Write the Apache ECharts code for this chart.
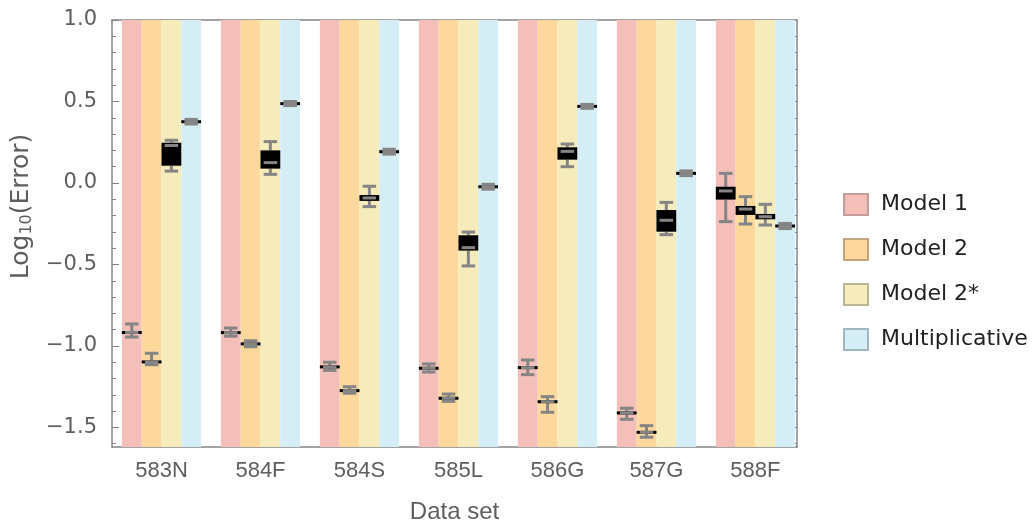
<!DOCTYPE html>
<html lang="en">
<head>
    <meta charset="utf-8" />
    <title>Log10 error by data set</title>
    <style>
        html,
        body {
            width: 100%;
            height: 100%;
            margin: 0;
            background: #fff;
        }

        #main {
            width: 1035px;
            height: 527px;
        }
    </style>
</head>
<body>
    <div id="main"></div>
    <script src="https://cdn.jsdelivr.net/npm/echarts@6/dist/echarts.min.js"></script>
    <script type="text/javascript">
        var datasets = ['583N', '584F', '584S', '585L', '586G', '587G', '588F'];
        var models = ['Model 1', 'Model 2', 'Model 2*', 'Multiplicative'];

        // [low whisker, q1, median, q3, high whisker] for each data set
        var model1Box = [
            [-0.945, -0.925, -0.917, -0.910, -0.865],
            [-0.940, -0.922, -0.918, -0.914, -0.890],
            [-1.150, -1.135, -1.129, -1.122, -1.100],
            [-1.160, -1.142, -1.137, -1.132, -1.110],
            [-1.176, -1.138, -1.133, -1.128, -1.086],
            [-1.450, -1.415, -1.411, -1.407, -1.382],
            [-0.237, -0.102, -0.049, -0.023, 0.059]
        ];
        var model2Box = [
            [-1.115, -1.103, -1.098, -1.093, -1.045],
            [-1.005, -0.990, -0.988, -0.985, -0.968],
            [-1.290, -1.278, -1.274, -1.270, -1.250],
            [-1.340, -1.326, -1.321, -1.316, -1.295],
            [-1.407, -1.347, -1.342, -1.337, -1.311],
            [-1.560, -1.534, -1.530, -1.526, -1.489],
            [-0.252, -0.196, -0.160, -0.141, -0.084]
        ];
        var model2sBox = [
            [0.073, 0.106, 0.230, 0.247, 0.262],
            [0.053, 0.088, 0.125, 0.200, 0.254],
            [-0.145, -0.110, -0.092, -0.074, -0.020],
            [-0.509, -0.415, -0.397, -0.321, -0.301],
            [0.100, 0.143, 0.194, 0.219, 0.239],
            [-0.317, -0.299, -0.229, -0.166, -0.119],
            [-0.258, -0.223, -0.207, -0.190, -0.131]
        ];
        var multBox = [
            [0.362, 0.373, 0.376, 0.379, 0.390],
            [0.475, 0.484, 0.487, 0.490, 0.500],
            [0.177, 0.189, 0.192, 0.195, 0.207],
            [-0.038, -0.026, -0.023, -0.020, -0.008],
            [0.458, 0.467, 0.470, 0.473, 0.482],
            [0.045, 0.056, 0.059, 0.062, 0.074],
            [-0.280, -0.267, -0.264, -0.261, -0.248]
        ];
        var yTicks = [-1.5, -1.0, -0.5, 0.0, 0.5, 1.0];

        var boxes = [model1Box, model2Box, model2sBox, multBox];
        var bandColors = ['#f4beb9', '#fcd89c', '#f6ebbb', '#d5edf5'];
        var legendBorders = ['#c29d9a', '#c2a57d', '#bdb694', '#9fb6bf'];
        var font = 'Liberation Sans, Arial, Helvetica, sans-serif';
        var wideFont = 'DejaVu Sans, Verdana, sans-serif';
        var frameColor = '#858585';
        var labelColor = '#5e5e5e';
        var yMin = -1.62, yMax = 1.0;

        // each data set takes 5 slots: 4 model bands + 1 gap
        function slot(g, m) { return g * 5 + m + 0.5; }

        var bandCenters = [], groupCenters = [];
        datasets.forEach(function (d, g) {
            groupCenters.push(g * 5 + 2);
            models.forEach(function (mm, m) { bandCenters.push(slot(g, m)); });
        });
        var minorY = [];
        for (var k = -16; k <= 10; k++) {
            if (k % 5 !== 0) minorY.push(k / 10);
        }

        function renderBand(params, api) {
            var x = api.value(0);
            var w = api.size([1, 0])[0];
            var p = api.coord([x - 0.5, 0]);
            var cs = params.coordSys;
            return {
                type: 'rect',
                shape: { x: p[0], y: cs.y, width: w, height: cs.height },
                style: { fill: api.visual('color') }
            };
        }

        function renderBox(params, api) {
            var x = api.value(0);
            var pLo = api.coord([x, api.value(1)]);
            var pQ1 = api.coord([x, api.value(2)]);
            var pMd = api.coord([x, api.value(3)]);
            var pQ3 = api.coord([x, api.value(4)]);
            var pHi = api.coord([x, api.value(5)]);
            var bw = api.size([1, 0])[0];
            var cx = pMd[0];
            var cap = bw * 0.34;
            var top = pQ3[1], bot = pQ1[1];
            if (bot - top < 3) {
                var mid = (top + bot) / 2;
                top = mid - 1.5;
                bot = mid + 1.5;
            }
            var gray = { stroke: '#858585', lineWidth: 3 };
            return {
                type: 'group',
                children: [
                    { type: 'line', shape: { x1: cx, y1: pHi[1], x2: cx, y2: top }, style: gray },
                    { type: 'line', shape: { x1: cx, y1: bot, x2: cx, y2: pLo[1] }, style: gray },
                    { type: 'rect', shape: { x: cx - bw / 2, y: top, width: bw, height: bot - top }, style: { fill: '#000' } },
                    { type: 'line', shape: { x1: cx - cap, y1: pHi[1], x2: cx + cap, y2: pHi[1] }, style: gray },
                    { type: 'line', shape: { x1: cx - cap, y1: pLo[1], x2: cx + cap, y2: pLo[1] }, style: gray },
                    { type: 'line', shape: { x1: cx - cap, y1: pMd[1], x2: cx + cap, y2: pMd[1] }, style: gray }
                ]
            };
        }

        var series = [];
        models.forEach(function (name, m) {
            series.push({
                type: 'custom',
                name: name,
                z: 1,
                silent: true,
                itemStyle: { color: bandColors[m] },
                renderItem: renderBand,
                encode: { x: 0, y: 1 },
                data: datasets.map(function (d, g) { return [slot(g, m), 0]; })
            });
        });
        models.forEach(function (name, m) {
            series.push({
                type: 'custom',
                name: name + ' box',
                z: 3,
                silent: true,
                renderItem: renderBox,
                encode: { x: 0, y: [1, 2, 3, 4, 5] },
                data: datasets.map(function (d, g) { return [slot(g, m)].concat(boxes[m][g]); })
            });
        });

        function yLabel(v) {
            return v.toFixed(1).replace('-', '\u2212');
        }

        function frameX(pos, labels) {
            return {
                type: 'value',
                min: -0.5,
                max: 34.1,
                position: pos,
                axisLine: { onZero: false, lineStyle: { color: frameColor, width: 1.5 } },
                axisTick: { inside: true, length: 5, customValues: bandCenters, lineStyle: { color: frameColor } },
                axisLabel: labels ? {
                    customValues: groupCenters,
                    margin: 13,
                    fontSize: 22,
                    color: labelColor,
                    formatter: function (v) { return datasets[Math.round((v - 2) / 5)]; }
                } : { show: false },
                splitLine: { show: false }
            };
        }

        function frameY(pos, ticks, len, line) {
            return {
                type: 'value',
                min: yMin,
                max: yMax,
                position: pos,
                axisLine: { show: line, onZero: false, lineStyle: { color: frameColor, width: 1.5 } },
                axisTick: { show: true, inside: true, length: len, customValues: ticks, lineStyle: { color: frameColor } },
                axisLabel: { show: false },
                splitLine: { show: false }
            };
        }

        var xBottom = frameX('bottom', true);
        xBottom.name = 'Data set';
        xBottom.nameLocation = 'middle';
        xBottom.nameGap = 53;
        xBottom.nameTextStyle = { fontSize: 24, color: labelColor };

        var yLeft = frameY('left', yTicks, 7, true);
        yLeft.axisLabel = { customValues: yTicks, formatter: yLabel, fontSize: 21, fontFamily: wideFont, color: labelColor, margin: 15 };
        yLeft.name = 'Log{sub|10}(Error)';
        yLeft.nameLocation = 'middle';
        yLeft.nameGap = 76;
        yLeft.nameTextStyle = {
            fontSize: 25,
            fontFamily: wideFont,
            color: labelColor,
            padding: [0, 0, 0, 54],
            rich: { sub: { fontSize: 16, fontFamily: wideFont, color: labelColor, verticalAlign: 'bottom', padding: [12, 0, 0, 0] } }
        };

        var chart = echarts.init(document.getElementById('main'));
        var option = {
            animation: false,
            textStyle: { fontFamily: font },
            grid: { left: 112, right: 238, top: 20, bottom: 80, outerBoundsMode: 'none' },
            legend: {
                orient: 'vertical',
                left: 838,
                top: 188,
                itemWidth: 24,
                itemHeight: 21,
                itemGap: 22,
                icon: 'rect',
                selectedMode: false,
                textStyle: { fontSize: 22, color: '#222', fontFamily: wideFont, padding: [0, 0, 0, 8] },
                data: models.map(function (m, i) {
                    return { name: m, itemStyle: { borderColor: legendBorders[i], borderWidth: 2 } };
                })
            },
            xAxis: [xBottom, frameX('top', false)],
            yAxis: [
                yLeft,
                frameY('left', minorY, 4, false),
                frameY('right', yTicks, 7, true),
                frameY('right', minorY, 4, false)
            ],
            series: series
        };
        chart.setOption(option);
    </script>
</body>
</html>
